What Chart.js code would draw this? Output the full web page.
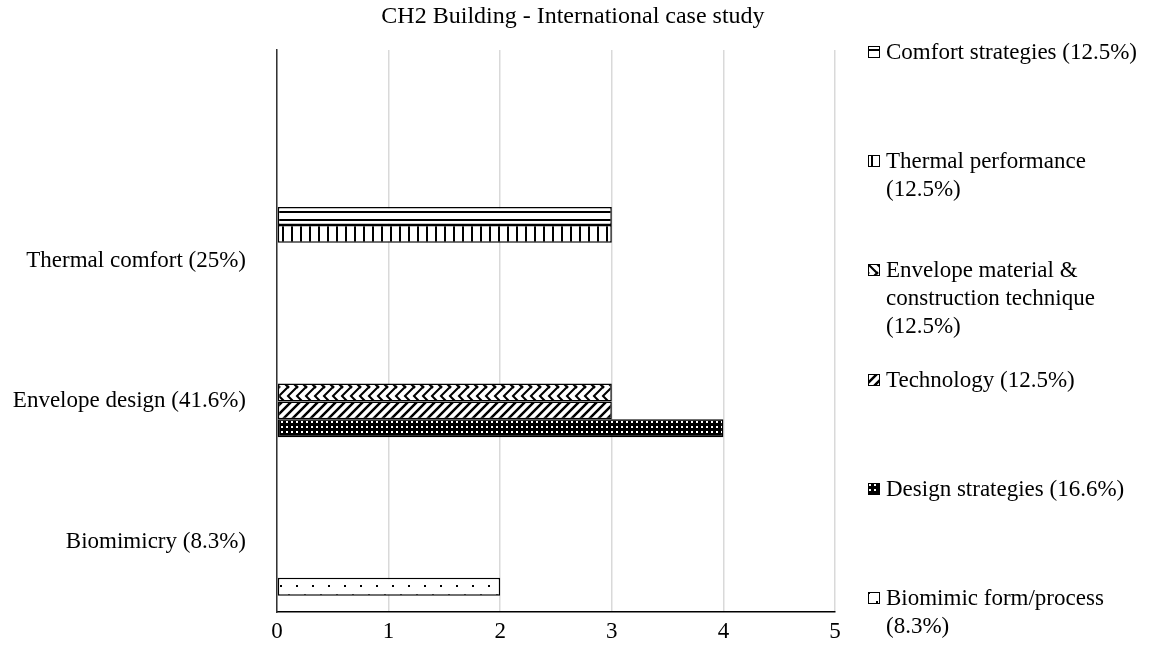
<!DOCTYPE html>
<html>
<head>
<meta charset="utf-8">
<script src="https://cdn.jsdelivr.net/npm/chart.js@4.4.1/dist/chart.umd.min.js"></script>
<style>
  html, body { margin: 0; padding: 0; background: #fff; }
  #wrap { position: relative; width: 1152px; height: 657px; overflow: hidden;
          font-family: "Liberation Serif", "Times New Roman", serif; color: #000; }
  #chart { position: absolute; left: 0; top: 0; }
  #title { position: absolute; left: 0; top: 1px; width: 1146px; text-align: center;
           font-size: 24px; line-height: 28px; }
  .lg { position: absolute; left: 868px; display: flex; align-items: flex-start;
        font-size: 23px; line-height: 28px; white-space: nowrap; }
  .lg canvas { margin-top: 8px; margin-right: 6px; flex: none; }
</style>
</head>
<body>
<div id="wrap">
  <canvas id="chart" width="1152" height="657"></canvas>
  <div id="title">CH2 Building - International case study</div>
  <div id="legend"></div>
</div>
<script>
// ---------------- data ----------------
const categories = ['Biomimicry (8.3%)', 'Envelope design (41.6%)', 'Thermal comfort (25%)'];
const seriesLabels = [
  'Comfort strategies (12.5%)',
  'Thermal performance (12.5%)',
  'Envelope material & construction technique (12.5%)',
  'Technology (12.5%)',
  'Design strategies (16.6%)',
  'Biomimic form/process (8.3%)'
];
const legendLines = [
  ['Comfort strategies (12.5%)'],
  ['Thermal performance', '(12.5%)'],
  ['Envelope material &', 'construction technique', '(12.5%)'],
  ['Technology (12.5%)'],
  ['Design strategies (16.6%)'],
  ['Biomimic form/process', '(8.3%)']
];
// values per category (Biomimicry, Envelope design, Thermal comfort)
const comfortStrategies  = [null, null, 3];
const thermalPerformance = [null, null, 3];
const envelopeMaterial   = [null, 3, null];
const technology         = [null, 3, null];
const designStrategies   = [null, 4, null];
const biomimicForm       = [2, null, null];
const xMin = 0, xMax = 5, xStep = 1;
// -------------------------------------

const seriesValues = [comfortStrategies, thermalPerformance, envelopeMaterial, technology, designStrategies, biomimicForm];

function makeTile(w, h, bg, draw) {
  const c = document.createElement('canvas');
  c.width = w; c.height = h;
  const g = c.getContext('2d');
  g.fillStyle = bg; g.fillRect(0, 0, w, h);
  g.fillStyle = '#000'; g.strokeStyle = '#000';
  draw(g, w, h);
  return c;
}
const tiles = [
  // horizontal stripes
  makeTile(8, 8, '#fff', (g, w) => g.fillRect(0, 3, w, 2)),
  // vertical stripes
  makeTile(9, 8, '#fff', (g, w, h) => g.fillRect(3, 0, 2, h)),
  // zig-zag
  makeTile(9, 18, '#fff', (g, w, h) => {
    g.lineWidth = 2; g.beginPath();
    for (const o of [-w, 0, w]) {
      g.moveTo(o - 2, -2); g.lineTo(o + w + 1, h / 2 + 1);
      g.moveTo(o - 2, h + 2); g.lineTo(o + w + 1, h / 2 - 1);
    }
    g.stroke();
  }),
  // upward diagonal
  makeTile(9, 9, '#fff', (g, w, h) => {
    g.lineWidth = 2.5; g.beginPath();
    for (const o of [-w, 0, w]) { g.moveTo(o - 2, h + 2); g.lineTo(o + w + 2, -2); }
    g.stroke();
  }),
  // dark with white dots
  makeTile(5, 5, '#000', (g) => { g.fillStyle = '#fff'; g.fillRect(1, 1, 2, 2); }),
  // sparse dots
  makeTile(16, 18, '#fff', (g) => { g.fillRect(0, 0, 2, 2); g.fillRect(8, 9, 2, 2); })
];

const canvas = document.getElementById('chart');
const ctx = canvas.getContext('2d');

const datasets = seriesValues.map((vals, s) => ({
  label: seriesLabels[s],
  data: categories.map((c, i) => ({ x: vals[i], y: i })).filter(p => p.x !== null),
  backgroundColor: ctx.createPattern(tiles[s], 'repeat'),
  borderColor: '#000',
  borderWidth: 1.5,
  borderSkipped: false,
  categoryPercentage: 6 / 7.82,
  barPercentage: 1
}));

const FONT = { family: '"Liberation Serif", "Times New Roman", serif', size: 23 };

new Chart(ctx, {
  type: 'bar',
  data: { datasets },
  options: {
    indexAxis: 'y',
    responsive: false,
    animation: false,
    devicePixelRatio: 1,
    layout: { padding: { top: 50, right: 317, bottom: 0, left: 0 } },
    plugins: { legend: { display: false }, title: { display: false }, tooltip: { enabled: false } },
    scales: {
      x: {
        type: 'linear', position: 'bottom', min: xMin, max: xMax, offset: false,
        ticks: { stepSize: xStep, padding: 6, color: '#000', font: FONT },
        grid: { color: '#d9d9d9', lineWidth: 1.5, drawTicks: false, offset: false },
        border: { display: true, color: '#000', width: 1.5 },
        afterFit: (s) => { s.height = 39; }
      },
      y: {
        type: 'linear', position: 'left', offset: false,
        min: -0.5, max: categories.length + 0.5,   // one empty category slot on top
        afterBuildTicks: (s) => { s.ticks = categories.map((c, i) => ({ value: i })); },
        ticks: { padding: 31, color: '#000', font: FONT, autoSkip: false,
                 callback: (v) => categories[v] !== undefined ? categories[v] : '' },
        grid: { display: false, drawTicks: false, offset: false },
        border: { display: true, color: '#333', width: 1.5 },
        afterFit: (s) => { s.width = 277; }
      }
    }
  }
});

// ---------------- legend (HTML) ----------------
const legendTops = [38, 147, 256, 366, 475, 584];
const legend = document.getElementById('legend');
legendLines.forEach((lines, s) => {
  const item = document.createElement('div');
  item.className = 'lg';
  item.style.top = legendTops[s] + 'px';
  const ic = document.createElement('canvas');
  ic.width = 12; ic.height = 12;
  const g = ic.getContext('2d');
  g.fillStyle = g.createPattern(tiles[s], 'repeat');
  g.fillRect(0, 0, 12, 12);
  g.strokeStyle = '#000'; g.lineWidth = 1;
  g.strokeRect(0.5, 0.5, 11, 11);
  const txt = document.createElement('div');
  txt.innerHTML = lines.map(l => l.replace(/&/g, '&amp;')).join('<br>');
  item.appendChild(ic);
  item.appendChild(txt);
  legend.appendChild(item);
});
</script>
</body>
</html>
